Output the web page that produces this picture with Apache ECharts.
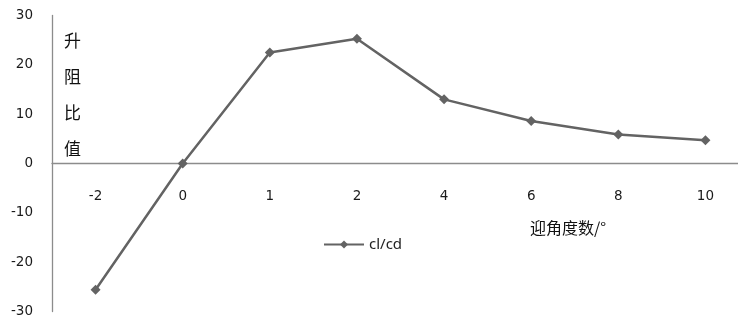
<!DOCTYPE html>
<html>
<head>
<meta charset="utf-8">
<script src="https://cdn.jsdelivr.net/npm/echarts@6/dist/echarts.min.js"></script>
<style>html,body{margin:0;padding:0;background:#fff}#c{width:738px;height:321px}</style>
</head>
<body>
<div id="c"></div>
<script>
const categories = ['-2', '0', '1', '2', '4', '6', '8', '10'];
const clcd = [-25.6, 0, 22.5, 25.3, 13.0, 8.6, 5.9, 4.7];
const seriesName = 'cl/cd';
const yTitle = '升阻比值';
const xTitle = '迎角度数/°';

const chart = echarts.init(document.getElementById('c'));
chart.setOption({
  animation: false,
  backgroundColor: '#fff',
  grid: { left: 52, top: 15.5, width: 697, height: 296, containLabel: false, outerBoundsMode: 'none' },
  xAxis: {
    type: 'category',
    data: categories,
    boundaryGap: true,
    axisLine: { onZero: true, lineStyle: { color: '#8c8c8c', width: 1.3 } },
    axisTick: { show: false },
    axisLabel: { margin: -122, color: '#1a1a1a', fontSize: 13.5, fontFamily: 'DejaVu Sans' },
    splitLine: { show: false }
  },
  yAxis: {
    type: 'value',
    min: -30, max: 30, interval: 10,
    axisLine: { show: true, lineStyle: { color: '#8c8c8c', width: 1.3 } },
    axisTick: { show: false },
    axisLabel: { margin: 19, color: '#1a1a1a', fontSize: 13.5, fontFamily: 'DejaVu Sans', padding: [0, 0, -3, 0] },
    splitLine: { show: false }
  },
  legend: {
    left: 318, top: 232,
    itemWidth: 40, itemHeight: 10, itemGap: 4,
    textStyle: { color: '#222', fontSize: 15, fontFamily: 'Noto Sans' },
    data: [seriesName]
  },
  graphic: [
    { type: 'text', left: 64, top: 23, style: { text: yTitle.split('').join('\n'), fontSize: 17, lineHeight: 36, fill: '#111', fontFamily: 'Noto Sans CJK SC' } },
    { type: 'text', left: 530, top: 220, style: { text: xTitle, fontSize: 16, fill: '#111', fontFamily: 'Noto Sans CJK SC' } }
  ],
  series: [{
    name: seriesName,
    type: 'line',
    data: clcd,
    symbol: 'diamond',
    symbolSize: 10,
    lineStyle: { color: '#636363', width: 2.5 },
    itemStyle: { color: '#636363' }
  }]
});
</script>
</body>
</html>
